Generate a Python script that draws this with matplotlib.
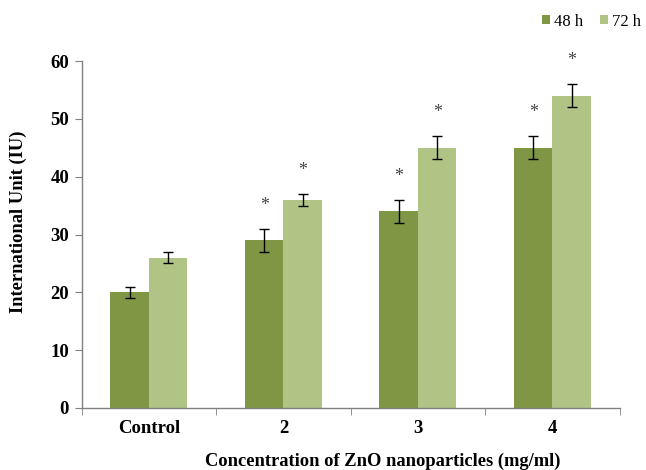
import matplotlib
matplotlib.use("Agg")
import matplotlib.pyplot as plt
import numpy as np

categories = ["Control", "2", "3", "4"]
series_names = ["48 h", "72 h"]
values_48h = [20, 29, 34, 45]
values_72h = [26, 36, 45, 54]
err_48h = [1, 2, 2, 2]
err_72h = [1, 1, 2, 2]
signif_48h = [False, True, True, True]
signif_72h = [False, True, True, True]
yticks = [0, 10, 20, 30, 40, 50, 60]

colors = ["#7f9645", "#b0c585"]
serif = ["Liberation Serif", "DejaVu Serif"]

fig = plt.figure(figsize=(6.46, 4.70), dpi=100)
ax = fig.add_axes([0.1263, 0.132, 0.833, 0.738])

x = np.arange(len(categories))
w = 0.286
for off, vals, errs, sig, col, name in [
    (-w / 2, values_48h, err_48h, signif_48h, colors[0], series_names[0]),
    (w / 2, values_72h, err_72h, signif_72h, colors[1], series_names[1]),
]:
    ax.bar(x + off, vals, width=w, color=col, label=name, zorder=2)
    ax.errorbar(x + off, vals, yerr=errs, fmt="none", ecolor="black",
                elinewidth=1, capsize=3.5, capthick=1, zorder=3)
    for xi, v, e, s in zip(x + off, vals, errs, sig):
        if s:
            ax.annotate("*", (xi, v + e), xytext=(0, 17), textcoords="offset points",
                        ha="center", va="center", fontsize=13, color="#444444",
                        family=serif)

ax.set_xlim(-0.5, len(categories) - 0.5)
ax.set_ylim(0, 60)
ax.set_yticks(yticks)
ax.set_yticklabels([str(t) for t in yticks], fontsize=13.5, fontweight="bold", family=serif)
ax.set_xticks(x)
ax.set_xticklabels(categories, fontsize=13.5, fontweight="bold", family=serif)
ax.tick_params(axis="x", length=0, pad=9)
ax.set_xticks(np.arange(len(categories) + 1) - 0.5, minor=True)
ax.tick_params(axis="x", which="minor", length=5, direction="out", color="#808080")
ax.tick_params(axis="y", length=5, direction="out", color="#808080", pad=4)

for s in ["top", "right"]:
    ax.spines[s].set_visible(False)
for s in ["left", "bottom"]:
    ax.spines[s].set_color("#808080")
    ax.spines[s].set_linewidth(1)

ax.set_ylabel("International Unit (IU)", fontsize=13.3, fontweight="bold",
              family=serif, va="center")
ax.yaxis.set_label_coords(-0.118, 0.536)
ax.set_xlabel("Concentration of ZnO nanoparticles (mg/ml)", fontsize=13.3,
              fontweight="bold", family=serif, va="center")
ax.xaxis.set_label_coords(0.56, -0.155)

leg = fig.legend(loc="upper right", bbox_to_anchor=(1.016, 1.003), ncol=2, frameon=False,
                 prop={"family": serif, "size": 12}, handlelength=0.5,
                 handleheight=0.5, handletextpad=0.25, columnspacing=1.0)

fig.savefig("out.png", dpi=100)
